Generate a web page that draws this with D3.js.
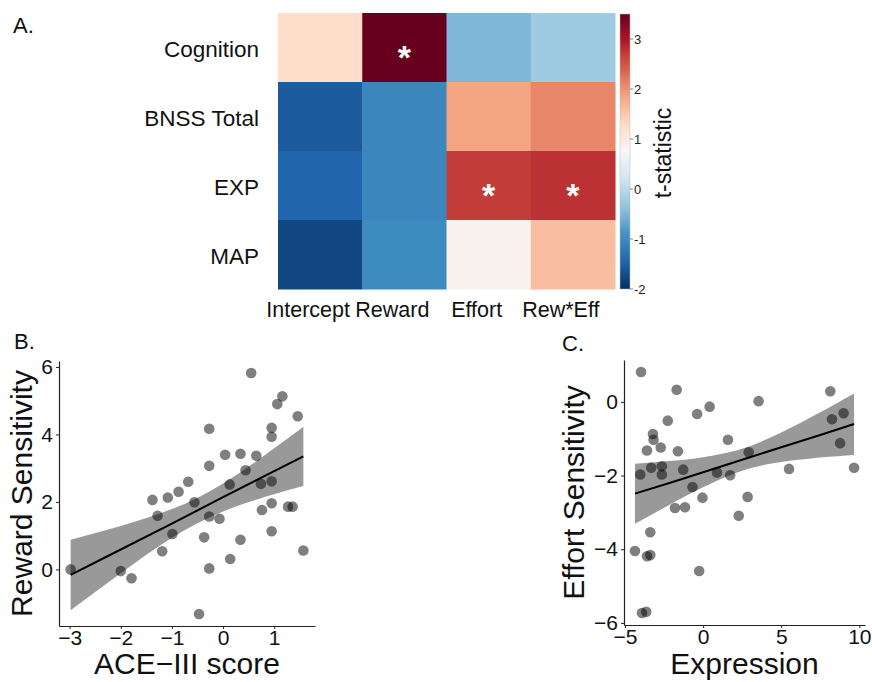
<!DOCTYPE html>
<html lang="en">
<head>
<meta charset="utf-8">
<script src="https://cdnjs.cloudflare.com/ajax/libs/d3/7.8.5/d3.min.js"></script>
<style>
  body { margin: 0; background: #fff; }
  svg { display: block; font-family: "Liberation Sans", Arial, Helvetica, sans-serif; }
</style>
</head>
<body>
<script>
// ---- panel A data (t-statistics) ----
var rows = ["Cognition", "BNSS Total", "EXP", "MAP"]
var cols = ["Intercept", "Reward", "Effort", "Rew*Eff"]
var tCognition = [1.25, 3.5, -0.5, -0.25]
var tBnss = [-1.55, -1.05, 1.85, 2.1]
var tExp = [-1.45, -1.05, 2.7, 2.8]
var tMap = [-1.75, -1.0, 0.85, 1.6]
var sigCognition = [0, 1, 0, 0]
var sigBnss = [0, 0, 0, 0]
var sigExp = [0, 0, 1, 1]
var sigMap = [0, 0, 0, 0]
var cbTicks = [-2, -1, 0, 1, 2, 3]
var cbLimits = [-2, 3.5]

// ---- panel B data ----
var aceScore = [-2.98, -2.0, -1.79, -1.38, -1.28, -1.19, -1.08, -0.99, -0.87, -0.68,
  -0.56, -0.47, -0.37, -0.27, -0.27, -0.27, -0.27, -0.07, 0.04, 0.13,
  0.14, 0.34, 0.34, 0.44, 0.55, 0.65, 0.74, 0.76, 0.95, 0.95,
  0.95, 0.95, 0.95, 1.06, 1.16, 1.27, 1.36, 1.46, 1.57]
var rewardSens = [0.0, -0.05, -0.26, 2.06, 1.59, 0.54, 2.13, 1.05, 2.30, 2.60,
  1.99, -1.32, 0.95, 4.17, 3.07, 1.57, 0.03, 1.50, 3.40, 2.52,
  0.31, 3.43, 0.88, 2.94, 5.82, 3.37, 2.54, 1.76, 4.20, 3.93,
  2.61, 1.96, 1.13, 4.90, 5.13, 1.86, 1.86, 4.54, 0.56]
// fitted line and 95% band
var fitXB = [-2.98, -2, -1, 0, 1, 1.57]
var fitYB = [-0.16, 0.59, 1.36, 2.14, 2.91, 3.35]
var fitLoB = [-1.21, -0.11, 0.94, 1.72, 2.23, 2.47]
var fitHiB = [0.88, 1.29, 1.79, 2.55, 3.59, 4.23]
var xTicksB = [-3, -2, -1, 0, 1]
var yTicksB = [0, 2, 4, 6]

// ---- panel C data ----
var expression = [-3.97, -4.36, -4.02, -3.91, -3.64, -3.59, -3.59, -3.38, -3.38, -3.32,
  -3.21, -3.17, -2.71, -2.64, -2.64, -2.26, -1.80, -1.69, -1.61, -1.27,
  -1.16, -0.68, -0.38, -0.25, -0.04, 0.42, 0.89, 1.59, 1.73, 2.28,
  2.85, 2.92, 3.55, 5.50, 8.14, 8.25, 8.77, 8.99, 9.66]
var effortSens = [0.81, -4.05, -1.97, -5.73, -5.70, -1.32, -4.19, -4.16, -3.54, -1.79,
  -0.87, -1.03, -1.24, -1.75, -1.97, -0.51, -2.88, 0.33, -1.34, -1.84,
  -2.86, -2.31, -0.33, -4.59, -2.60, -0.13, -1.92, -1.03, -1.99, -3.09,
  -2.58, -1.37, 0.02, -1.82, 0.29, -0.47, -1.12, -0.31, -1.79]
var fitXC = [-4.36, -2, 0, 2.5, 5, 7.5, 9.66]
var fitYC = [-2.49, -2.18, -1.91, -1.57, -1.23, -0.90, -0.60]
var fitLoC = [-3.31, -2.76, -2.32, -1.87, -1.63, -1.51, -1.44]
var fitHiC = [-1.68, -1.60, -1.50, -1.27, -0.83, -0.28, 0.23]
var xTicksC = [-5, 0, 5, 10]
var yTicksC = [-6, -4, -2, 0]

var W = 872, H = 682
var svg = d3.select("body").append("svg").attr("width", W).attr("height", H)

function panelLabel(txt, x, y) {
  svg.append("text").attr("x", x).attr("y", y).attr("font-size", 22).attr("fill", "#111").text(txt)
}
panelLabel("A.", 13, 33)
panelLabel("B.", 14, 349)
panelLabel("C.", 562, 351)

/////////////////////////// HEATMAP /////////////////////////////////////
var tGrid = [tCognition, tBnss, tExp, tMap]
var sigGrid = [sigCognition, sigBnss, sigExp, sigMap]
var cells = []
rows.forEach((r, i) => cols.forEach((c, j) => cells.push({row: r, col: c, t: tGrid[i][j], sig: sigGrid[i][j]})))

var hx = d3.scaleBand().domain(cols).range([278, 615])
var hy = d3.scaleBand().domain(rows).range([13, 289])

// RdBu (11 classes), blue at the low end, interpolated in Lab like ggplot
var rdbu = d3.schemeRdBu[11].slice().reverse()
var color = d3.scaleLinear()
  .domain(d3.range(11).map(i => cbLimits[0] + i * (cbLimits[1] - cbLimits[0]) / 10))
  .range(rdbu).interpolate(d3.interpolateLab).clamp(true)

var heat = svg.append("g")
heat.selectAll("rect.tile").data(cells).join("rect").attr("class", "tile")
  .attr("x", d => hx(d.col)).attr("y", d => hy(d.row))
  .attr("width", hx.bandwidth() + 0.5).attr("height", hy.bandwidth() + 0.5)
  .attr("fill", d => color(d.t))

heat.selectAll("text.star").data(cells.filter(d => d.sig)).join("text").attr("class", "star")
  .attr("x", d => hx(d.col) + hx.bandwidth() / 2)
  .attr("y", d => hy(d.row) + hy.bandwidth() / 2 + 21)
  .attr("text-anchor", "middle").attr("font-size", 34).attr("font-weight", "bold")
  .attr("fill", "#fff").text("*")

heat.selectAll("text.rowlab").data(rows).join("text").attr("class", "rowlab")
  .attr("x", 259).attr("y", d => hy(d) + hy.bandwidth() / 2 + 2)
  .attr("dy", "0.35em").attr("text-anchor", "end").attr("font-size", 22.5).attr("fill", "#111")
  .text(d => d)

heat.selectAll("text.collab").data(cols).join("text").attr("class", "collab")
  .attr("x", d => hx(d) + hx.bandwidth() / 2 - 12).attr("y", 317)
  .attr("text-anchor", "middle").attr("font-size", 21.5).attr("fill", "#111")
  .text(d => d)

// colour bar
var cbY = d3.scaleLinear().domain(cbLimits).range([289, 14])
var grad = svg.append("defs").append("linearGradient").attr("id", "cbgrad")
  .attr("x1", 0).attr("y1", 1).attr("x2", 0).attr("y2", 0)
d3.range(0, 1.0001, 0.05).forEach(f => {
  grad.append("stop").attr("offset", f).attr("stop-color", color(cbLimits[0] + f * (cbLimits[1] - cbLimits[0])))
})
svg.append("rect").attr("x", 620).attr("y", cbY(cbLimits[1])).attr("width", 10)
  .attr("height", cbY(cbLimits[0]) - cbY(cbLimits[1])).attr("fill", "url(#cbgrad)")
  .attr("stroke", "#bbb").attr("stroke-width", 0.5)
var cbAxis = svg.append("g")
cbAxis.selectAll("line").data(cbTicks).join("line")
  .attr("x1", 630).attr("x2", 633).attr("y1", d => cbY(d)).attr("y2", d => cbY(d))
  .attr("stroke", "#666").attr("stroke-width", 0.8)
cbAxis.selectAll("text").data(cbTicks).join("text")
  .attr("x", 634).attr("y", d => cbY(d)).attr("dy", "0.35em")
  .attr("font-size", 13).attr("fill", "#222").text(d => String(d))
svg.append("text").attr("transform", "translate(663,153) rotate(-90)")
  .attr("text-anchor", "middle").attr("dominant-baseline", "central")
  .attr("font-size", 23).attr("fill", "#111").text("t-statistic")

/////////////////////////// SCATTER PANELS /////////////////////////////////////
function expand(ext) {
  var pad = (ext[1] - ext[0]) * 0.05
  return [ext[0] - pad, ext[1] + pad]
}

function scatterPanel(xs, ys, fit, opt) {
  var x = d3.scaleLinear().domain(expand(d3.extent(xs))).range(opt.xr)
  var y = d3.scaleLinear().domain(expand(d3.extent(ys))).range(opt.yr)
  var g = svg.append("g")
  var band = fit.x.map((v, i) => ({x: v, fit: fit.y[i], lo: fit.lo[i], hi: fit.hi[i]}))

  g.append("path").datum(band)
    .attr("fill", "#000").attr("fill-opacity", 0.4)
    .attr("d", d3.area().curve(d3.curveNatural).x(d => x(d.x)).y0(d => y(d.lo)).y1(d => y(d.hi)))
  g.append("path").datum(band)
    .attr("fill", "none").attr("stroke", "#000").attr("stroke-width", 2)
    .attr("d", d3.line().x(d => x(d.x)).y(d => y(d.fit)))

  g.selectAll("circle").data(xs).join("circle")
    .attr("cx", d => x(d)).attr("cy", (d, i) => y(ys[i])).attr("r", 5.3)
    .attr("fill", "#000").attr("fill-opacity", 0.5)

  var ax = g.append("g").attr("transform", `translate(0,${opt.yr[0]})`)
    .call(d3.axisBottom(x).tickValues(opt.xt).tickFormat(d3.format("d"))
      .tickSize(3).tickPadding(1).tickSizeOuter(0))
  var ay = g.append("g").attr("transform", `translate(${opt.xr[0]},0)`)
    .call(d3.axisLeft(y).tickValues(opt.yt).tickFormat(d3.format("d"))
      .tickSize(3).tickPadding(3).tickSizeOuter(0))
  ;[ax, ay].forEach(a => {
    a.select(".domain").attr("stroke", "#222").attr("stroke-width", 1.2)
    a.selectAll(".tick line").attr("stroke", "#222")
    a.selectAll(".tick text").attr("font-size", 21).attr("fill", "#111")
      .attr("font-family", "Liberation Sans, Arial, sans-serif")
  })

  g.append("text").attr("x", (opt.xr[0] + opt.xr[1]) / 2).attr("y", opt.xtitleY)
    .attr("text-anchor", "middle").attr("font-size", 30).attr("fill", "#111").text(opt.xtitle)
  g.append("text").attr("transform", `translate(${opt.ytitleX},${(opt.yr[0] + opt.yr[1]) / 2}) rotate(-90)`)
    .attr("text-anchor", "middle").attr("font-size", 30).attr("fill", "#111").text(opt.ytitle)
}

scatterPanel(aceScore, rewardSens, {x: fitXB, y: fitYB, lo: fitLoB, hi: fitHiB}, {
  xr: [59, 315], yr: [626, 361], xt: xTicksB, yt: yTicksB,
  xtitle: "ACE\u2212III score", xtitleY: 674, ytitle: "Reward Sensitivity", ytitleX: 32
})
scatterPanel(expression, effortSens, {x: fitXC, y: fitYC, lo: fitLoC, hi: fitHiC}, {
  xr: [624, 865], yr: [625, 360], xt: xTicksC, yt: yTicksC,
  xtitle: "Expression", xtitleY: 674, ytitle: "Effort Sensitivity", ytitleX: 584
})
</script>
</body>
</html>
